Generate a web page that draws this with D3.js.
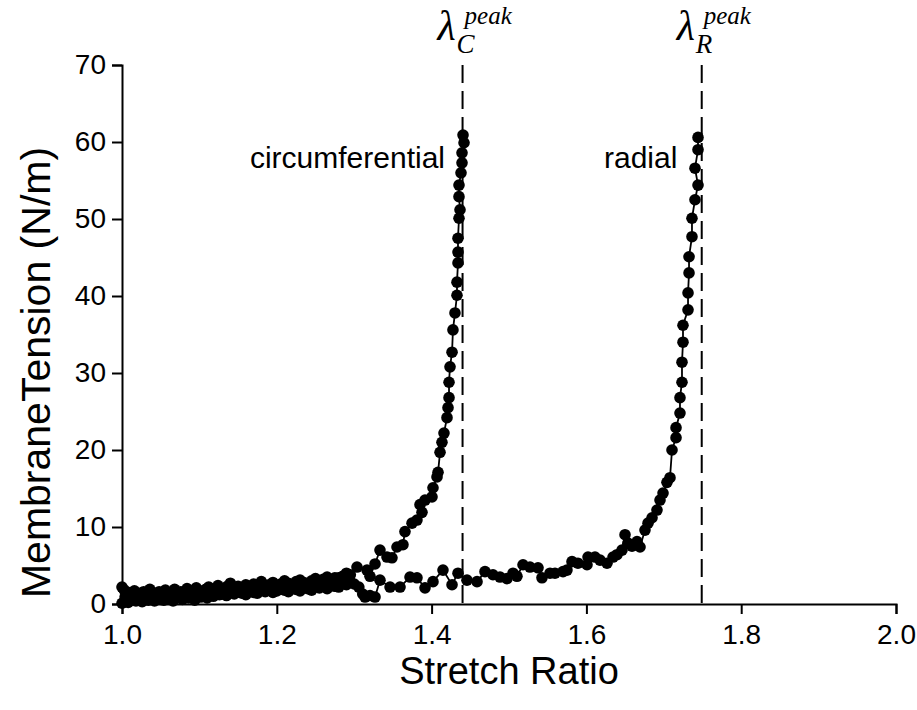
<!DOCTYPE html>
<html>
<head>
<meta charset="utf-8">
<script src="https://cdn.jsdelivr.net/npm/d3@7"></script>
<style>
  html, body { margin: 0; padding: 0; background: #fff; }
  svg { display: block; }
  text { font-family: "Liberation Sans", Arial, sans-serif; fill: #000; }
</style>
</head>
<body>
<svg id="chart" width="917" height="710"></svg>
<script>
// Uniaxial stretch response of a membrane in two directions.
const xTicks = [1.0, 1.2, 1.4, 1.6, 1.8, 2.0];
const yTicks = [0, 10, 20, 30, 40, 50, 60, 70];
const xTitle = "Stretch Ratio";
const yTitle = "MembraneTension (N/m)";

// circumferential direction
const circX = [
  1.000,1.003,1.006,1.009,1.012,1.016,1.020,1.024,1.028,1.032,1.036,1.040,1.044,1.048,1.052,1.056,
  1.060,1.064,1.068,1.072,1.076,1.080,1.084,1.088,1.092,1.096,1.100,1.104,1.108,1.112,1.116,1.120,
  1.124,1.128,1.132,1.136,1.140,1.145,1.150,1.155,1.160,1.165,1.170,1.175,1.180,1.185,1.190,1.195,
  1.200,1.205,1.210,1.215,1.220,1.225,1.230,1.235,1.240,1.245,1.250,1.255,1.260,1.265,1.270,1.275,
  1.280,1.285,1.290,1.295,
  1.3036,1.3165,1.3204,1.3269,1.3333,1.3424,1.3488,1.3553,1.3630,1.3656,1.3747,1.3811,1.3876,1.3850,
  1.3915,1.4005,1.4018,1.4070,1.4083,1.4109,1.4134,1.4160,1.4199,1.4212,1.4225,1.4225,1.4238,1.4264,
  1.4276,1.4302,1.4328,1.4328,1.4341,1.4341,1.4341,1.4354,1.4367,1.4354,1.4354,1.4380,1.4393,1.4393,
  1.4419,1.4406
];
const circY = [
  2.2,1.8,0.9,1.5,1.1,1.7,1.0,1.4,1.6,1.2,1.9,1.3,1.1,1.6,1.4,1.8,
  1.2,1.5,1.9,1.4,1.6,1.3,2.0,1.7,1.5,2.1,1.6,1.4,1.9,2.2,1.7,1.8,
  2.4,2.0,1.9,2.3,2.7,2.1,2.3,2.0,2.5,2.2,2.6,2.4,2.9,2.3,2.5,2.8,
  2.4,2.6,3.0,2.7,2.5,2.9,3.1,2.8,2.6,3.0,3.3,2.9,3.2,3.5,3.1,3.4,
  3.4,3.6,4.0,3.8,
  4.8,4.4,3.6,5.2,7.0,6.1,6.0,7.4,7.7,9.4,10.5,10.9,11.9,12.9,
  13.5,13.9,15.1,16.5,17.1,19.7,21.0,22.2,24.2,25.5,26.8,28.8,30.8,32.7,
  35.6,37.8,40.1,41.8,44.3,45.7,47.5,50.1,51.2,52.9,54.4,56.0,57.3,58.6,
  59.9,60.9
];

// radial direction
const radX = [
  1.000,1.004,1.008,1.012,1.015,1.018,1.022,1.026,1.030,1.034,1.038,1.042,1.046,1.050,1.054,1.058,
  1.062,1.066,1.070,1.074,1.078,1.082,1.086,1.090,1.094,1.098,1.102,1.106,1.110,1.114,1.118,1.122,
  1.126,1.130,1.135,1.140,1.145,1.150,1.155,1.160,1.165,1.170,1.175,1.180,1.185,1.190,1.195,1.200,
  1.205,1.210,1.215,1.220,1.225,1.230,1.235,1.240,1.245,1.250,1.255,1.260,1.265,1.270,1.275,1.280,
  1.285,1.290,1.295,1.300,1.306,1.311,
  1.3140,1.3204,1.3269,1.3333,1.3463,1.3592,1.3721,1.3811,1.3915,1.4018,1.4147,1.4264,1.4341,1.4457,
  1.4587,1.4690,1.4793,1.4884,1.4974,1.5052,1.5103,1.5181,1.5271,1.5375,1.5426,1.5530,1.5594,1.5698,
  1.5749,1.5814,1.5891,1.6008,1.6021,1.6111,1.6176,1.6266,1.6344,1.6395,1.6460,1.6499,1.6537,1.6589,
  1.6654,1.6693,1.6757,1.6796,1.6848,1.6912,1.6951,1.6990,1.7041,1.7080,1.7106,1.7158,1.7158,1.7209,
  1.7209,1.7235,1.7235,1.7248,1.7248,1.7313,1.7313,1.7326,1.7326,1.7364,1.7364,1.7403,1.7442,1.7403,
  1.7442,1.7442
];
const radY = [
  0.1,0.9,0.2,0.7,1.1,0.4,0.8,0.3,1.0,0.5,0.9,0.4,1.2,0.6,0.5,1.0,
  0.7,0.4,1.1,0.9,0.6,1.2,0.8,1.0,0.5,1.3,0.9,1.1,0.8,1.2,1.0,1.4,
  1.2,1.3,1.1,1.5,1.3,1.6,1.4,1.2,1.7,1.5,1.4,1.8,1.6,1.9,1.5,1.7,
  2.0,1.8,1.6,2.1,1.9,1.7,2.2,2.0,1.8,2.3,2.1,2.4,2.0,2.6,2.3,2.2,
  2.8,2.5,2.9,2.6,2.2,1.3,
  0.9,1.1,0.9,3.1,2.2,2.2,3.5,3.4,2.1,2.9,4.4,2.5,4.0,3.1,
  2.9,4.2,3.8,3.5,3.3,4.0,3.6,5.1,4.8,4.7,3.4,4.0,4.0,4.2,
  4.4,5.5,5.3,5.1,6.1,6.1,5.7,5.3,6.1,6.4,7.0,9.0,7.9,7.5,
  8.1,7.4,9.6,10.5,11.2,12.2,13.5,14.4,15.8,16.4,20.0,21.6,22.9,24.8,
  26.8,28.8,31.4,34.0,36.2,38.2,40.4,43.0,45.1,47.7,50.1,52.5,54.4,56.6,
  59.0,60.6
];

// peak stretch ratios marked by dashed lines
const peakLabels = ["C", "R"];
const peakValues = [1.44, 1.749];
const curveLabels = ["circumferential", "radial"];

const svg = d3.select("#chart");
const margin = { left: 122, right: 21, top: 65, bottom: 106 };
const W = 917, H = 710;

const x = d3.scaleLinear().domain([1.0, 2.0]).range([margin.left, W - margin.right]);
const y = d3.scaleLinear().domain([0, 70]).range([H - margin.bottom, margin.top]);

// axes
const xAxis = d3.axisBottom(x).tickValues(xTicks).tickFormat(d3.format(".1f")).tickSizeOuter(0).tickSize(10).tickPadding(10);
const yAxis = d3.axisLeft(y).tickValues(yTicks).tickFormat(d3.format("d")).tickSizeOuter(0).tickSize(10).tickPadding(6);

const gx = svg.append("g").attr("transform", `translate(0,${y(0)})`).call(xAxis);
const gy = svg.append("g").attr("transform", `translate(${x(1.0)},0)`).call(yAxis);
[gx, gy].forEach(g => {
  g.select(".domain").attr("stroke", "#000").attr("stroke-width", 2);
  g.selectAll(".tick line").attr("stroke", "#000").attr("stroke-width", 2);
  g.selectAll(".tick text").attr("font-size", 28).attr("fill", "#000")
    .attr("font-family", "'Liberation Sans', Arial, sans-serif");
});

// axis titles
svg.append("text").attr("x", (x(1.0) + x(2.0)) / 2).attr("y", 684)
  .attr("text-anchor", "middle").attr("font-size", 38).text(xTitle);
svg.append("text").attr("transform", `translate(50,${(y(0) + y(70)) / 2 + 38}) rotate(-90)`)
  .attr("text-anchor", "middle").attr("font-size", 41).text(yTitle);

// dashed peak lines
peakValues.forEach((v, i) => {
  svg.append("line").attr("x1", x(v)).attr("x2", x(v)).attr("y1", y(70)).attr("y2", y(0))
    .attr("stroke", "#000").attr("stroke-width", 2).attr("stroke-dasharray", "18,8");
  const g = svg.append("g").attr("transform", `translate(${x(v) - 25},40)`)
    .style("font-family", "'Liberation Serif', 'DejaVu Serif', serif").style("font-style", "italic");
  g.append("text").attr("x", 0).attr("y", 0).attr("font-size", 42).style("font-family", "inherit").text("λ");
  g.append("text").attr("x", 19).attr("y", 13).attr("font-size", 27).style("font-family", "inherit").text(peakLabels[i]);
  g.append("text").attr("x", 27).attr("y", -16).attr("font-size", 25).style("font-family", "inherit").text("peak");
});

// curves
const series = [
  { xs: circX, ys: circY },
  { xs: radX, ys: radY }
];
const line = d3.line().x(d => x(d[0])).y(d => y(d[1]));
series.forEach(s => {
  const pts = s.xs.map((v, i) => [v, s.ys[i]]);
  svg.append("path").datum(pts).attr("d", line)
    .attr("fill", "none").attr("stroke", "#000").attr("stroke-width", 1.8);
  svg.append("g").selectAll("circle").data(pts).join("circle")
    .attr("cx", d => x(d[0])).attr("cy", d => y(d[1])).attr("r", 5.8).attr("fill", "#000");
});

// curve labels
svg.append("text").attr("x", 445).attr("y", 168).attr("text-anchor", "end")
  .attr("font-size", 30).text(curveLabels[0]);
svg.append("text").attr("x", 604).attr("y", 168).attr("text-anchor", "start")
  .attr("font-size", 30).text(curveLabels[1]);
</script>
</body>
</html>
